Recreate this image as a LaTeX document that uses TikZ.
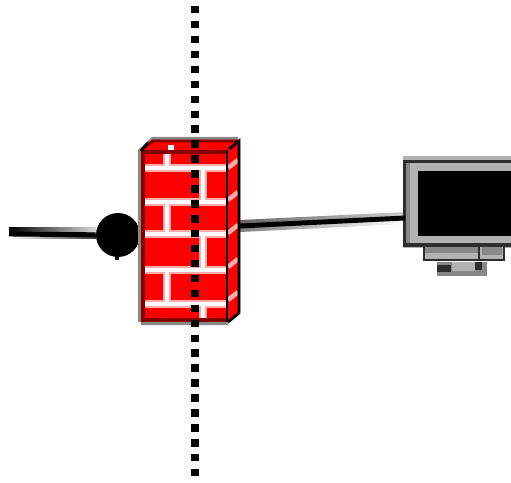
\documentclass[tikz,border=0pt]{standalone}
\usepackage{xcolor}
\usepackage{tikz}
\usetikzlibrary{arrows.meta}
\definecolor{brickred}{RGB}{255,0,0}
\definecolor{brickdark}{RGB}{130,0,0}
\definecolor{brickpink}{RGB}{255,170,170}
\definecolor{bezelgray}{RGB}{178,178,178}
\definecolor{edgegray}{RGB}{136,136,136}
\definecolor{edgedark}{RGB}{45,45,45}
\tikzset{
  mortarglow/.style={brickpink, line width=4.4pt},
  mortar/.style={white, line width=2.4pt},
  link/.style={black, line width=2.8pt},
  boundary/.style={black, line width=4pt, dash pattern=on 4.25pt off 4.25pt},
}
\begin{document}
\begin{tikzpicture}[x=0.02cm, y=-0.02cm]
  \useasboundingbox (0,0) rectangle (511,483);

  % Named ends
  \coordinate (farend) at (9,234);
  \coordinate (wallport) at (240,226);
  \coordinate (screenport) at (405,218);

  % Soft halo round the links
  \shade[left color=black, right color=black!15] (9,228) rectangle (96,233);
  \shade[left color=white, right color=black!80] (9,235) rectangle (96,239);
  \shade[left color=black!60, right color=black!20]
    (240,220) -- (405,212) -- (405,219) -- (240,227) -- cycle;
  \shade[left color=black!50, right color=white]
    (240,226) -- (405,218) -- (405,224) -- (240,232) -- cycle;

  % Hub on the line
  \node[circle, fill=black, minimum size=0.88cm, inner sep=0pt] (hub) at (118,235) {};
  \draw[link] (farend) -- (hub);
  \fill[black] (115,255) rectangle (119,260);

  % Wall: side face, top face
  \fill[edgegray] (138,150) -- (152,137) -- (238,137) -- (238,142) -- (150,142) -- (141,152) -- (141,325) -- (228,325) -- (228,322) -- (138,322) -- cycle;
  \fill[brickred] (228,150) -- (240,140) -- (240,312) -- (228,322) -- cycle;
  \fill[brickred] (141,150) -- (152,140) -- (240,140) -- (228,150) -- cycle;
  \fill[white] (168,145) rectangle (174,150);

  % Wall: front face with bricks
  \node[fill=brickred, minimum width=1.72cm, minimum height=3.44cm, inner sep=0pt, anchor=north west] (wall) at (141,150) {};
  \foreach \ya/\yb in {150/168,202/234,270/304}
    \draw[mortarglow] (167,\ya) -- (167,\yb);
  \foreach \ya/\yb in {168/202,234/270,304/322}
    \draw[mortarglow] (203,\ya) -- (203,\yb);
  \foreach \yrow in {168,202,234,270,304}
    \draw[mortarglow] (141,\yrow) -- (228,\yrow);
  \foreach \ya/\yb in {150/168,202/234,270/304}
    \draw[mortar] (167,\ya) -- (167,\yb);
  \foreach \ya/\yb in {168/202,234/270,304/322}
    \draw[mortar] (203,\ya) -- (203,\yb);
  \foreach \yrow in {168,202,234,270,304}
    \draw[mortar] (141,\yrow) -- (228,\yrow);
  \foreach \yrow in {163,195,228,262,295}
    \draw[brickpink, line width=2.6pt] (228,\yrow+5) -- (238,\yrow-3);

  % Wall outline
  \draw[brickdark, line width=2.2pt] (228,152) -- (143,152) -- (143,320) -- (228,320);
  \draw[black, line width=1.6pt] (227,150) -- (227,322);
  \draw[brickdark, line width=1.6pt] (147,145) -- (153,141) -- (238,141);
  \draw[black, line width=1.6pt] (141,151) -- (148,143) (229,149) -- (239,141) -- (239,313) -- (228,322);

  % Dotted boundary
  \draw[boundary] (195,6) -- (195,480);

  % Monitor
  \node[fill=bezelgray, minimum width=2.16cm, minimum height=1.84cm, inner sep=0pt, anchor=north west] (monitor) at (403,156) {};
  \fill[edgedark] (403,160) rectangle (511,163);
  \fill[edgedark] (403,160) rectangle (406,247);
  \fill[edgedark] (403,243) rectangle (511,247);
  \fill[edgegray] (406,163) rectangle (410,243);
  \fill[black] (418,171) rectangle (511,236);
  % Monitor base
  \fill[bezelgray] (423,247) rectangle (505,261);
  \fill[edgegray] (424,247) rectangle (478,253);
  \fill[edgegray] (482,247) rectangle (502,255);
  \draw[edgedark, line width=1.6pt] (424,247) -- (424,260) -- (504,260) -- (504,247);
  \draw[edgedark, line width=1.6pt] (479,247) -- (479,260);
  \fill[edgegray] (437,262) rectangle (487,276);
  \fill[bezelgray] (452,262) rectangle (475,271);
  \fill[edgedark] (437,265) rectangle (451,272);
  \fill[edgedark] (475,262) rectangle (482,270);

  % Link from wall to monitor
  \draw[link] (wallport) -- (screenport);
\end{tikzpicture}
\end{document}
